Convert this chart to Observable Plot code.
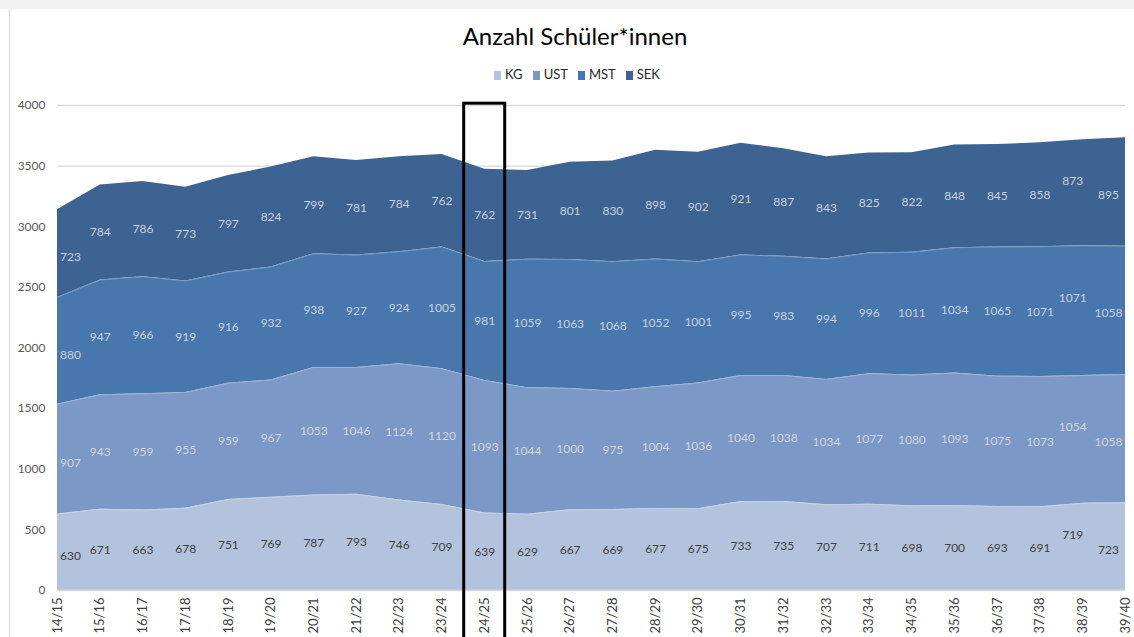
<!DOCTYPE html>
<html>
<head>
<meta charset="utf-8">
<script src="https://cdn.jsdelivr.net/npm/d3@7"></script>
<script src="https://cdn.jsdelivr.net/npm/@observablehq/plot@0.6"></script>
<style>
  html, body { margin: 0; padding: 0; background: #fff; }
  body { width: 1134px; height: 637px; overflow: hidden; position: relative; font-family: Lato, "Open Sans", sans-serif; }
  #topstrip { position: absolute; left: 0; top: 0; width: 1134px; height: 9px; background: #f2f2f2; }
  #frame { position: absolute; left: 9px; top: 9px; width: 1125px; height: 628px; border-left: 1px solid #d9d9d9; }
  #title { position: absolute; left: 0; top: 21px; width: 1150px; text-align: center; font-size: 24px; color: #000; }
  #legend { position: absolute; left: 0; top: 66px; width: 1154px; text-align: center; font-size: 13px; color: #262626; }
  #legend span.item { display: inline-block; margin: 0 5px; }
  #legend span.sw { display: inline-block; width: 7px; height: 9px; margin-right: 4px; vertical-align: -1px; }
  #chart { position: absolute; left: 0; top: 90px; }
</style>
</head>
<body>
<div id="topstrip"></div>
<div id="frame"></div>
<div id="title">Anzahl Schüler*innen</div>
<div id="legend"></div>
<div id="chart"></div>
<script>
const years = ["14/15","15/16","16/17","17/18","18/19","19/20","20/21","21/22","22/23","23/24","24/25","25/26","26/27","27/28","28/29","29/30","30/31","31/32","32/33","33/34","34/35","35/36","36/37","37/38","38/39","39/40"];
const KG  = [630,671,663,678,751,769,787,793,746,709,639,629,667,669,677,675,733,735,707,711,698,700,693,691,719,723];
const UST = [907,943,959,955,959,967,1053,1046,1124,1120,1093,1044,1000,975,1004,1036,1040,1038,1034,1077,1080,1093,1075,1073,1054,1058];
const MST = [880,947,966,919,916,932,938,927,924,1005,981,1059,1063,1068,1052,1001,995,983,994,996,1011,1034,1065,1071,1071,1058];
const SEK = [723,784,786,773,797,824,799,781,784,762,762,731,801,830,898,902,921,887,843,825,822,848,845,858,873,895];
const yTicks = [0,500,1000,1500,2000,2500,3000,3500,4000];
const seriesNames = ["KG","UST","MST","SEK"];
const seriesValues = [KG, UST, MST, SEK];
const seriesColors = ["#b4c3dd","#7c98c6","#4877ae","#3c6391"];
const labelColors = ["#404040","#d2d5db","#c9d0dc","#c9d0dc"];
const highlightYear = "24/25";
const highlightTop = 4015;

// build table
const rows = [];
const cum = years.map(() => 0);
seriesNames.forEach((s, k) => {
  seriesValues[k].forEach((v, i) => {
    const lo = cum[i], hi = lo + v;
    rows.push({i, year: years[i], series: s, value: v, lo, hi, mid: (lo + hi) / 2, lc: labelColors[k]});
    cum[i] = hi;
  });
});

// legend
const legend = document.getElementById("legend");
seriesNames.forEach((s, k) => {
  const it = document.createElement("span");
  it.className = "item";
  it.innerHTML = `<span class="sw" style="background:${seriesColors[k]}"></span>${s}`;
  legend.appendChild(it);
});

const last = years.length - 1;
const hiIdx = years.indexOf(highlightYear);
const textOpts = {x: "i", y: "mid", text: d => String(d.value), fill: "lc", fontSize: 12, fontFamily: "Lato"};

const chart = Plot.plot({
  width: 1134,
  height: 547,
  marginTop: 15,
  marginBottom: 47,
  marginLeft: 57,
  marginRight: 9,
  style: {fontFamily: "Lato, sans-serif", background: "transparent", overflow: "visible"},
  x: {type: "linear", domain: [0, last]},
  y: {domain: [0, 4000]},
  color: {domain: seriesNames, range: seriesColors},
  marks: [
    Plot.gridY(yTicks.slice(1), {stroke: "#d9d9d9", strokeOpacity: 1, strokeWidth: 1.3}),
    Plot.areaY(rows, {x: "i", y1: "lo", y2: "hi", fill: "series", z: "series"}),
    Plot.lineY(rows.filter(d => d.series !== "SEK"), {x: "i", y: "hi", z: "series", stroke: "white", strokeOpacity: 0.25, strokeWidth: 1}),
    Plot.ruleY([0], {stroke: "#d9d9d9", strokeWidth: 1.5}),
    Plot.axisY(yTicks, {tickFormat: d => String(d), tickSize: 0, tickPadding: 12, fontSize: 12, color: "#595959", label: null}),
    Plot.axisX(d3.range(0, last + 1), {tickFormat: i => years[i], tickRotate: -90, tickSize: 0, tickPadding: 7, fontSize: 13, color: "#404040", label: null}),
    Plot.text(rows.filter(d => d.i > 0 && d.i < last - 1), textOpts),
    Plot.text(rows.filter(d => d.i === 0), {...textOpts, dx: 13, dy: 4}),
    Plot.text(rows.filter(d => d.i === last - 1), {...textOpts, dx: -10, dy: -12}),
    Plot.text(rows.filter(d => d.i === last), {...textOpts, dx: -17, dy: 3}),
    Plot.rect([hiIdx], {x1: d => d - 0.48, x2: d => d + 0.48, y1: -600, y2: highlightTop, fill: "none", stroke: "black", strokeWidth: 3})
  ]
});
document.getElementById("chart").appendChild(chart);
</script>
</body>
</html>
